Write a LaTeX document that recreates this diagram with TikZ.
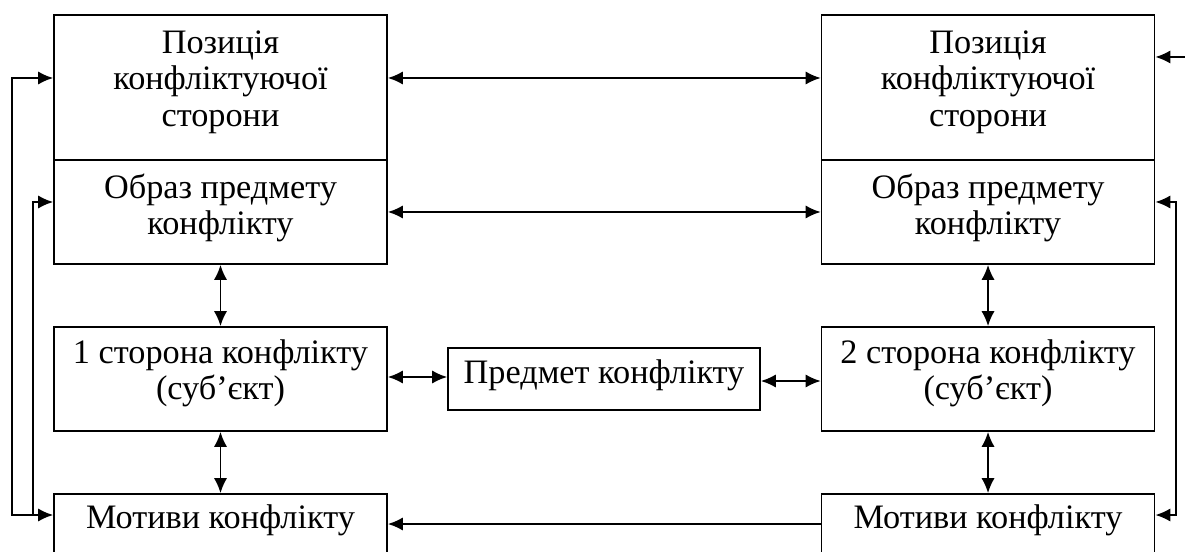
\documentclass[tikz,border=0pt]{standalone}
\usepackage{fontspec}
\setmainfont{Liberation Serif}
\usetikzlibrary{positioning,arrows.meta}
\newlength\pxu
\setlength\pxu{0.02cm}

\begin{document}
\begin{tikzpicture}[x=\pxu,y=\pxu,line width=1pt,
    box/.style={draw,minimum width=333\pxu,inner sep=0pt},
    txt/.style={align=center,inner sep=0pt,font=\fontsize{19.5}{20.8}\selectfont},
    >={Latex[length=8.5pt,width=7.5pt]}]
    \useasboundingbox (0,0) rectangle (1185,551);

    \node[box,minimum height=145\pxu] (pos1) at (220.5,463.5) {};
    \node[box,minimum height=104\pxu] (obr1) at (220.5,339) {};
    \node[box,minimum height=104\pxu] (st1) at (220.5,172) {};
    \node[box,minimum height=104\pxu] (mot1) at (220.5,5) {};

    \node[box,minimum height=145\pxu] (pos2) at (988,463.5) {};
    \node[box,minimum height=104\pxu] (obr2) at (988,339) {};
    \node[box,minimum height=104\pxu] (st2) at (988,172) {};
    \node[box,minimum height=104\pxu] (mot2) at (988,5) {};

    \node[box,minimum width=312\pxu,minimum height=62\pxu] (pred) at (604,172) {};

    \node[txt,below=12.5\pxu of pos1.north] (pos1t) {\strut Позиція\\конфліктуючої\\сторони};
    \node[txt,below=12.5\pxu of obr1.north] (obr1t) {\strut Образ предмету\\конфлікту};
    \node[txt,below=10.5\pxu of st1.north] (st1t) {\strut 1 сторона конфлікту\\(суб’єкт)};
    \node[txt,below=8.5\pxu of mot1.north] (mot1t) {\strut Мотиви конфлікту};

    \node[txt,below=12.5\pxu of pos2.north] (pos2t) {\strut Позиція\\конфліктуючої\\сторони};
    \node[txt,below=12.5\pxu of obr2.north] (obr2t) {\strut Образ предмету\\конфлікту};
    \node[txt,below=10.5\pxu of st2.north] (st2t) {\strut 2 сторона конфлікту\\(суб’єкт)};
    \node[txt,below=8.5\pxu of mot2.north] (mot2t) {\strut Мотиви конфлікту};

    \node[txt,below=9.5\pxu of pred.north] (predt) {\strut Предмет конфлікту};

    \coordinate (lo) at (12,36);
    \coordinate (li) at (33,36);
    \coordinate (ro) at (1176,36);
    \coordinate (rt) at (1185,494);

    \draw[<->] ([yshift=9.5\pxu]pos1.east) -- ([yshift=9.5\pxu]pos2.west);
    \draw[<->] (obr1.east) -- (obr2.west);
    \draw[<->] (obr1.south) -- (st1.north);
    \draw[<->] (st1.south) -- (mot1.north);
    \draw[<->] (obr2.south) -- (st2.north);
    \draw[<->] (st2.south) -- (mot2.north);
    \draw[<->] ([yshift=2\pxu]st1.east) -- ([yshift=2\pxu]pred.west);
    \draw[<->] ([yshift=-2\pxu]pred.east) -- ([yshift=-2\pxu]st2.west);
    \draw[->] ([yshift=22\pxu]mot2.west) -- ([yshift=22\pxu]mot1.east);

    \draw[<->] ([yshift=9.5\pxu]pos1.west) -| (lo) |- ([yshift=31\pxu]mot1.west);
    \draw[->] (li) |- ([yshift=10\pxu]obr1.west);
    \draw[<->] ([yshift=10\pxu]obr2.east) -| (ro) |- ([yshift=31\pxu]mot2.east);
    \draw[->] (rt) -- (pos2.east |- rt);
\end{tikzpicture}
\end{document}
